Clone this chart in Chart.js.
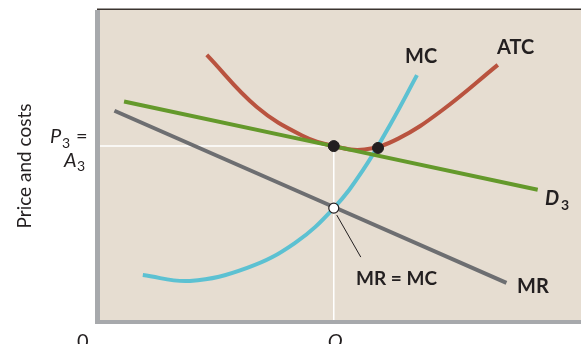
<!DOCTYPE html>
<html>
<head>
<meta charset="utf-8">
<script src="https://cdn.jsdelivr.net/npm/chart.js@4"></script>
<style>
  html, body { margin: 0; padding: 0; background: #fff; overflow: hidden; }
  canvas { display: block; }
</style>
</head>
<body>
<canvas id="chart" width="581" height="344"></canvas>
<script>
// Curves (quantity on x, price/cost on y, both 0-100)
const demandQ = [5, 91];
const demandP = [70.5, 42];
const mrQ = [3, 84.5];
const mrP = [67.5, 12];
const mcQ = [8.9, 18.7, 30.6, 40.5, 48.6, 54.7, 60.5, 65.9];
const mcP = [14.5, 12.6, 16.8, 24.8, 36.1, 48.4, 63.5, 79.0];
const atcQ = [22.2, 32.6, 42, 48.6, 55, 62, 71, 82.7];
const atcP = [85.5, 68.7, 59.5, 56.1, 55.0, 58.5, 67.5, 82.3];

// Key points
const q3 = 48.6;          // output where MR = MC
const p3 = 56.1;          // price = average total cost
const mrEqualsMc = 36.1;  // MR = MC level
const atcMinQ = 57.8;     // MC crosses ATC
const atcMinP = 55.5;

const pts = (xs, ys) => xs.map((x, i) => ({ x: x, y: ys[i] }));

const bg = '#e6ddd1';
const ink = '#231f20';

const frame = {
  id: 'frame',
  beforeDatasetsDraw(chart) {
    const { ctx, chartArea: a, scales: { x, y } } = chart;
    ctx.save();
    ctx.fillStyle = bg;
    ctx.fillRect(a.left, a.top, a.right - a.left, a.bottom - a.top);
    // white guide lines
    const qx = x.getPixelForValue(q3), py = y.getPixelForValue(p3);
    ctx.strokeStyle = '#ffffff';
    ctx.lineWidth = 1.5;
    ctx.beginPath();
    ctx.moveTo(a.left, py); ctx.lineTo(qx, py);
    ctx.moveTo(qx, py); ctx.lineTo(qx, a.bottom);
    ctx.stroke();
    ctx.restore();
  },
  afterDatasetsDraw(chart) {
    const { ctx, chartArea: a, scales: { x, y } } = chart;
    ctx.save();
    // axes
    ctx.fillStyle = '#a7a9ac';
    ctx.fillRect(a.left - 5, a.top, 5, a.bottom - a.top + 4);
    ctx.fillRect(a.left - 5, a.bottom, a.right - a.left + 5, 4);
    ctx.fillStyle = '#3b3430';
    ctx.fillRect(a.left - 3, a.top - 1.5, a.right - a.left + 3, 1.5);

    // leader line for MR = MC
    const qx = x.getPixelForValue(q3), my = y.getPixelForValue(mrEqualsMc);
    ctx.strokeStyle = ink;
    ctx.lineWidth = 1;
    ctx.beginPath();
    ctx.moveTo(qx + 3, my + 7);
    ctx.lineTo(qx + 27, my + 49);
    ctx.stroke();

    ctx.fillStyle = ink;
    ctx.textBaseline = 'alphabetic';
    ctx.textAlign = 'left';
    ctx.font = 'bold 20px Lato';
    ctx.fillText('MC', 405, 63);
    ctx.fillText('ATC', 497, 54);
    ctx.fillText('MR', 517, 293);
    ctx.font = 'bold 19px Lato';
    ctx.fillText('MR = MC', 356, 285);

    // D3
    ctx.font = 'italic bold 20px Lato';
    ctx.fillText('D', 545, 205);
    ctx.font = 'bold 14px Lato';
    ctx.fillText('3', 561, 210);

    // P3 = A3
    ctx.font = 'italic 20px Lato';
    ctx.fillText('P', 50, 143);
    ctx.fillText('A', 64, 167);
    ctx.font = '14px Lato';
    ctx.fillText('3', 62, 148);
    ctx.fillText('3', 77, 171);
    ctx.font = '20px Lato';
    ctx.fillText('=', 76, 143);

    // axis ends
    ctx.fillText('0', 77, 348);
    ctx.font = 'italic 20px Lato';
    ctx.fillText('Q', qx - 6, 348);

    // y axis title
    ctx.translate(31, 166);
    ctx.rotate(-Math.PI / 2);
    ctx.textAlign = 'center';
    ctx.font = '19px Lato';
    ctx.fillText('Price and costs', 0, 0);
    ctx.restore();
  }
};

const line = (label, data, color, order) => ({
  label, data, borderColor: color, borderWidth: 4, showLine: true,
  pointRadius: 0, tension: 0.4, order, borderCapStyle: 'butt'
});

new Chart(document.getElementById('chart'), {
  type: 'scatter',
  data: {
    datasets: [
      {
        label: 'MR = MC', data: [{ x: q3, y: mrEqualsMc }], pointRadius: 5,
        pointBackgroundColor: '#ffffff', pointBorderColor: ink, pointBorderWidth: 1.2, order: 0
      },
      {
        label: 'P3 = A3', data: [{ x: q3, y: p3 }, { x: atcMinQ, y: atcMinP }], pointRadius: 5.5,
        pointBackgroundColor: ink, pointBorderColor: ink, order: 0
      },
      line('D3', pts(demandQ, demandP), '#64992b', 1),
      line('MC', pts(mcQ, mcP), '#5cc1d2', 2),
      line('ATC', pts(atcQ, atcP), '#b9533f', 3),
      line('MR', pts(mrQ, mrP), '#6d6e71', 4)
    ]
  },
  options: {
    responsive: false,
    animation: false,
    layout: { autoPadding: false, padding: { left: 100, right: 0, top: 10, bottom: 24 } },
    scales: {
      x: { type: 'linear', min: 0, max: 100, display: false },
      y: { type: 'linear', min: 0, max: 100, display: false }
    },
    plugins: { legend: { display: false }, tooltip: { enabled: false } }
  },
  plugins: [frame]
});
</script>
</body>
</html>
